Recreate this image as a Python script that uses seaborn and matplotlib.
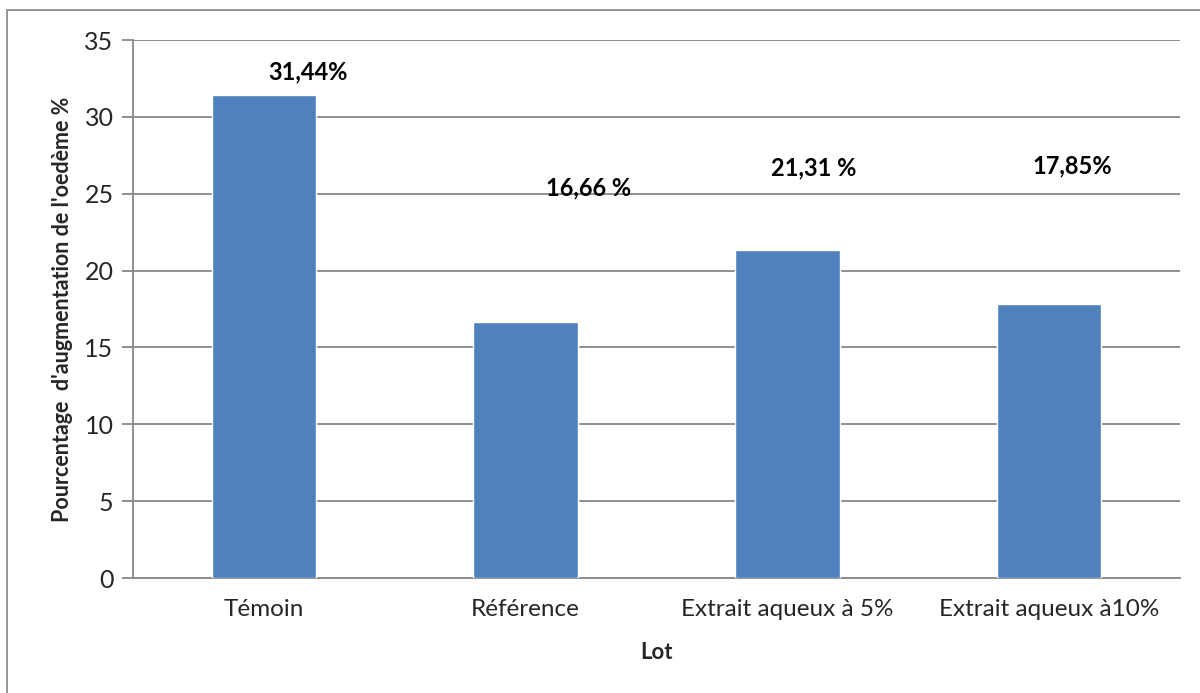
import matplotlib
matplotlib.use("Agg")
import matplotlib.pyplot as plt
import seaborn as sns
import pandas as pd
from matplotlib.patches import Rectangle

categories = ["Témoin", "Référence", "Extrait aqueux à 5%", "Extrait aqueux à10%"]
values = [31.44, 16.66, 21.31, 17.85]
value_labels = ["31,44%", "16,66 %", "21,31 %", "17,85%"]
# label anchor positions (category offset, y) as placed in the original
label_dx = [0.17, 0.24, 0.10, 0.09]
label_y = [32.9, 25.4, 26.7, 26.8]
yticks = [0, 5, 10, 15, 20, 25, 30, 35]

sns.set_theme(style="white")
plt.rcParams["font.family"] = ["Lato", "DejaVu Sans"]

df = pd.DataFrame({"Lot": categories, "val": values})

fig = plt.figure(figsize=(12, 6.93), dpi=100)
ax = fig.add_axes([133 / 1200, 1 - 578 / 693, (1180 - 133) / 1200, (578 - 40) / 693])

grid_c = "#878787"
sns.barplot(data=df, x="Lot", y="val", color="#4F81BD", saturation=1, width=0.4, ax=ax, zorder=3)

ax.set_ylim(0, 35)
ax.set_xlim(-0.5, 3.5)
ax.set_yticks(yticks)
ax.set_yticklabels([str(t) for t in yticks], fontsize=18)
for t in yticks:
    ax.axhline(t, color=grid_c, lw=1.3, zorder=1)
ax.tick_params(axis="y", which="both", left=True, length=8, width=1.3, color=grid_c, pad=6)
ax.tick_params(axis="x", length=0, pad=15, labelsize=17.5)
for s in ["top", "right"]:
    ax.spines[s].set_visible(False)
for s in ["left", "bottom"]:
    ax.spines[s].set_color(grid_c)
    ax.spines[s].set_linewidth(1.3)

ax.set_xlabel("Lot", fontsize=16, fontweight="bold", labelpad=16)
ax.set_ylabel("Pourcentage  d'augmentation de l'oedème %", fontsize=15.5, fontweight="bold", labelpad=8)

for i, (lab, dx, y) in enumerate(zip(value_labels, label_dx, label_y)):
    ax.text(i + dx, y, lab, ha="center", va="center", fontsize=17, fontweight="bold", color="black")

fig.patches.append(Rectangle((7 / 1200, -0.1), 1.2, 1 - 10 / 693 + 0.1, transform=fig.transFigure,
                             fill=False, edgecolor="#8c8c8c", lw=1.3))

fig.savefig("out.png", dpi=100, facecolor="white")
